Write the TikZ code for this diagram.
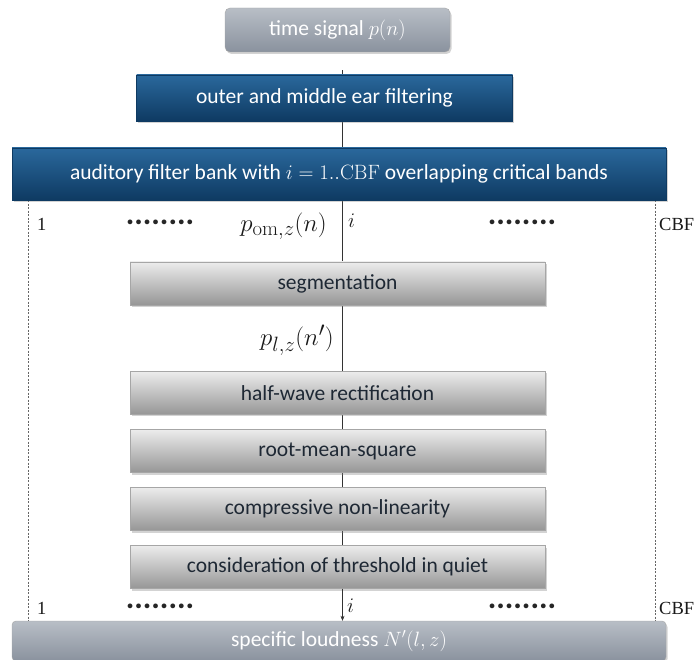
\documentclass[tikz,border=0pt]{standalone}
\usepackage[no-math]{fontspec}
\setmainfont{Carlito}
\newfontfamily\lblserif{Liberation Serif}
\usetikzlibrary{shadows,backgrounds,arrows.meta}
\definecolor{bluetop}{RGB}{42,104,156}
\definecolor{bluebot}{RGB}{14,58,98}
\definecolor{graytop}{RGB}{236,236,236}
\definecolor{graybot}{RGB}{150,150,150}
\definecolor{sltop}{RGB}{184,190,198}
\definecolor{slbot}{RGB}{138,146,158}
\definecolor{txtdark}{RGB}{30,40,52}
\begin{document}
\begin{tikzpicture}[x=1pt,y=-1pt,
  boxbase/.style={draw=black!35, line width=0.4pt, align=center, inner sep=0pt,
    font=\fontsize{21.5}{24}\selectfont,
    drop shadow={shadow xshift=1.5pt, shadow yshift=-2pt, opacity=0.35}},
  graybox/.style={boxbase, top color=graytop, bottom color=graybot, text=txtdark,
    minimum width=415pt, minimum height=43pt},
  bluebox/.style={boxbase, draw=bluebot, top color=bluetop, bottom color=bluebot, text=white},
  ioboxa/.style={boxbase, rounded corners=5pt, top color=sltop, bottom color=slbot, text=white},
  flow/.style={line width=0.5pt, draw=black!80},
  dashline/.style={line width=0.5pt, draw=black!60, dash pattern=on 2pt off 1.5pt},
  lbl/.style={font=\lblserif\fontsize{18.5}{20}\selectfont, inner sep=0pt, text=black!90},
  ilbl/.style={font=\fontsize{20}{22}\selectfont, inner sep=0pt, text=black!90},
  dots/.style={font=\fontsize{32}{34}\bfseries\selectfont, inner sep=0pt, text=black!85},
  mlbl/.style={font=\fontsize{28.5}{30}\selectfont, inner sep=0pt, text=black!90}
]
\useasboundingbox (0,0) rectangle (694,660);

\node[ioboxa, minimum width=225pt, minimum height=44pt] (ts) at (337.5,30) {time signal $p(n)$};
\node[bluebox, minimum width=376pt, minimum height=46pt] (ome) at (324.5,98) {outer and middle ear filtering};
\node[bluebox, minimum width=654pt, minimum height=52pt] (fb) at (339,174) {auditory filter bank with $i=1..\mathrm{CBF}$ overlapping critical bands};
\node[graybox] (seg) at (337.5,283.5) {segmentation};
\node[graybox] (hw) at (337.5,393) {half-wave rectification};
\node[graybox] (rms) at (337.5,451) {root-mean-square};
\node[graybox] (cnl) at (337.5,509) {compressive non-linearity};
\node[graybox] (thr) at (337.5,567) {consideration of threshold in quiet};
\node[ioboxa, rounded corners=4pt, minimum width=654pt, minimum height=40pt] (sl) at (339,641) {specific loudness $N'(l,z)$};

% labels
\node[lbl, anchor=west] (l1a) at (37,224) {1};
\node[dots] (d1a) at (160,222) {........};
\node[mlbl, anchor=east] (pom) at (327,226) {$p_{\mathrm{om},z}(n)$};
\node[ilbl, anchor=west] (i1) at (348,221) {$i$};
\node[dots] (d1b) at (522,222) {........};
\node[lbl, anchor=west] (c1) at (659,224) {CBF};
\node[mlbl, anchor=east] (pl) at (334,340) {$p_{l,z}(n')$};
\node[lbl, anchor=west] (l1b) at (37,608) {1};
\node[dots] (d2a) at (160,606) {........};
\node[ilbl, anchor=west] (i2) at (347,606) {$i$};
\node[dots] (d2b) at (522,606) {........};
\node[lbl, anchor=west] (c2) at (659,608) {CBF};

\begin{scope}[on background layer]
\draw[flow, shorten <=18pt] ([xshift=5pt]ts.south) -- ([xshift=18pt]ome.north);
\draw[flow] ([xshift=18pt]ome.south) -- ([xshift=3.5pt]fb.north);
\draw[flow] ([xshift=3.5pt]fb.south) -- ([xshift=5pt]seg.north);
\draw[flow] ([xshift=5pt]seg.south) -- ([xshift=5pt]hw.north);
\draw[flow] ([xshift=5pt]hw.south) -- ([xshift=5pt]rms.north);
\draw[flow] ([xshift=5pt]rms.south) -- ([xshift=5pt]cnl.north);
\draw[flow] ([xshift=5pt]cnl.south) -- ([xshift=5pt]thr.north);
\draw[dashline] ([xshift=16pt]fb.south west) -- ([xshift=16pt]sl.north west);
\draw[dashline] ([xshift=-11pt]fb.south east) -- ([xshift=-11pt]sl.north east);
\end{scope}
\draw[flow, -{Stealth[length=5pt,width=4pt]}] ([xshift=5pt]thr.south) -- ([xshift=3.5pt]sl.north);
\end{tikzpicture}
\end{document}
